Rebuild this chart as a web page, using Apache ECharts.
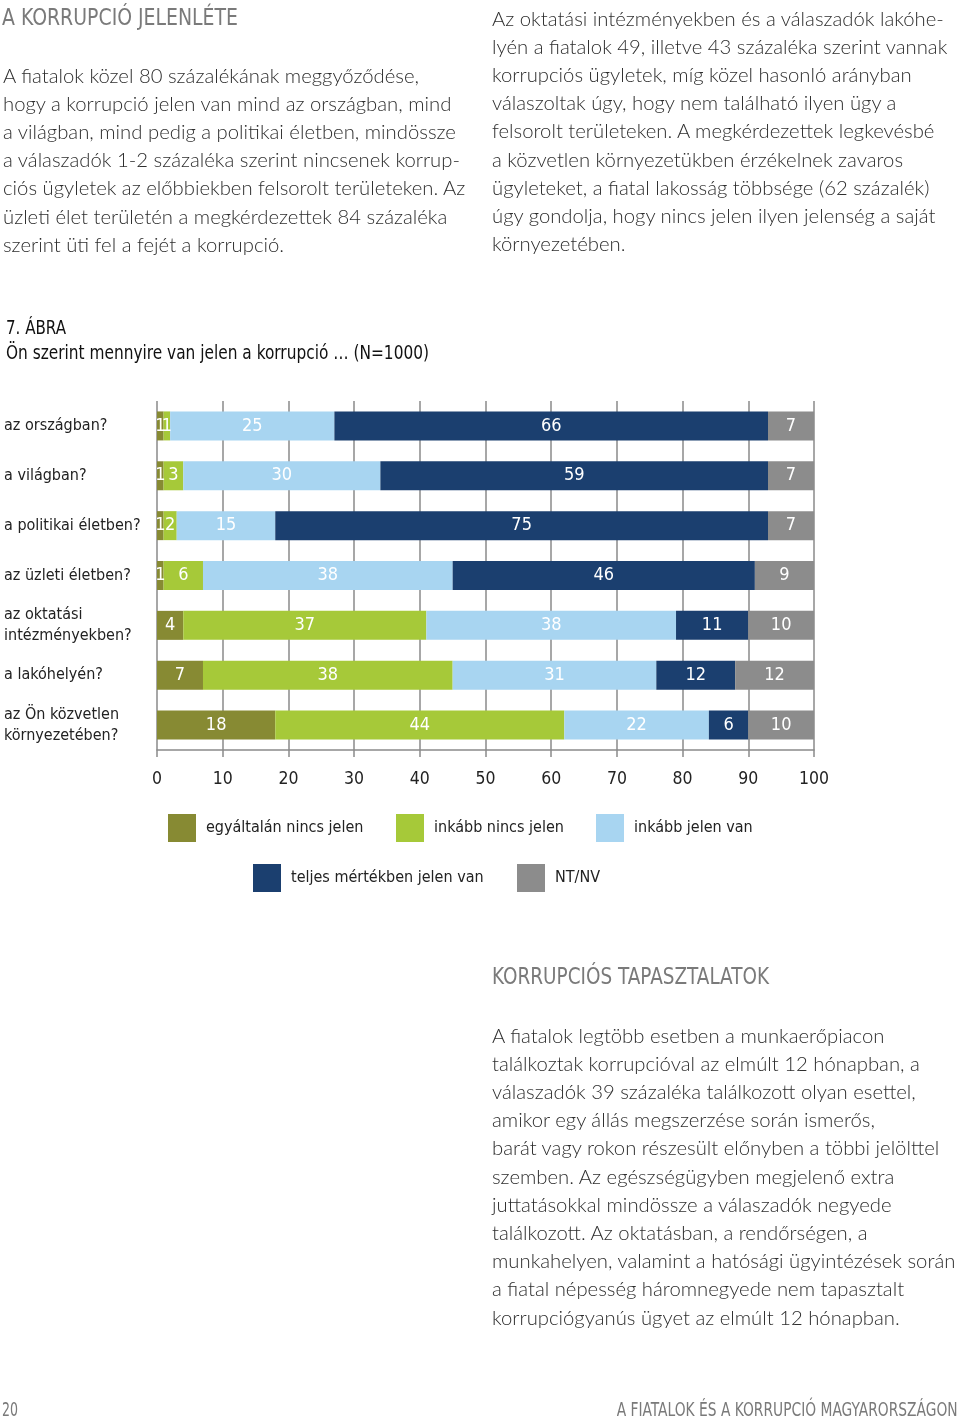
<!DOCTYPE html>
<html>
<head>
<meta charset="utf-8">
<script src="https://cdn.jsdelivr.net/npm/echarts@6/dist/echarts.min.js"></script>
<style>
  html, body { margin:0; padding:0; background:#fff; }
  body { width:960px; height:1417px; position:relative; overflow:hidden; }
  #chart { position:absolute; left:0; top:0; width:960px; height:1417px; }
  .ln { position:absolute; white-space:nowrap; font-family:'Lato','Open Sans',sans-serif; font-weight:300; font-size:20.3px; line-height:28px; height:28px; color:#2e2e2e; }
  .cd { position:absolute; white-space:nowrap; font-family:'DejaVu Sans Condensed','DejaVu Sans',sans-serif; line-height:28px; height:28px; }
</style>
</head>
<body>
<div id="chart"></div>
<div id="txt"></div>
<script>
// ---------- data ----------
const categories = [
  'az országban?',
  'a világban?',
  'a politikai életben?',
  'az üzleti életben?',
  'az oktatási\nintézményekben?',
  'a lakóhelyén?',
  'az Ön közvetlen\nkörnyezetében?'
];
const seriesNames = ['egyáltalán nincs jelen','inkább nincs jelen','inkább jelen van','teljes mértékben jelen van','NT/NV'];
const notAtAll    = [1, 1, 1, 1, 4, 7, 18];
const ratherNot   = [1, 3, 2, 6, 37, 38, 44];
const ratherYes   = [25, 30, 15, 38, 38, 31, 22];
const fully       = [66, 59, 75, 46, 11, 12, 6];
const dkna        = [7, 7, 7, 9, 10, 12, 10];
const xTicks = [0, 100, 10]; // min, max, interval

const leftText = [
  'A fiatalok közel 80 százalékának meggyőződése,',
  'hogy a korrupció jelen van mind az országban, mind',
  'a világban, mind pedig a politikai életben, mindössze',
  'a válaszadók 1-2 százaléka szerint nincsenek korrup-',
  'ciós ügyletek az előbbiekben felsorolt területeken. Az',
  'üzleti élet területén a megkérdezettek 84 százaléka',
  'szerint üti fel a fejét a korrupció.'
];
const rightText = [
  'Az oktatási intézményekben és a válaszadók lakóhe-',
  'lyén a fiatalok 49, illetve 43 százaléka szerint vannak',
  'korrupciós ügyletek, míg közel hasonló arányban',
  'válaszoltak úgy, hogy nem található ilyen ügy a',
  'felsorolt területeken. A megkérdezettek legkevésbé',
  'a közvetlen környezetükben érzékelnek zavaros',
  'ügyleteket, a fiatal lakosság többsége (62 százalék)',
  'úgy gondolja, hogy nincs jelen ilyen jelenség a saját',
  'környezetében.'
];
const lowerText = [
  'A fiatalok legtöbb esetben a munkaerőpiacon',
  'találkoztak korrupcióval az elmúlt 12 hónapban, a',
  'válaszadók 39 százaléka találkozott olyan esettel,',
  'amikor egy állás megszerzése során ismerős,',
  'barát vagy rokon részesült előnyben a többi jelölttel',
  'szemben. Az egészségügyben megjelenő extra',
  'juttatásokkal mindössze a válaszadók negyede',
  'találkozott. Az oktatásban, a rendőrségen, a',
  'munkahelyen, valamint a hatósági ügyintézések során',
  'a fiatal népesség háromnegyede nem tapasztalt',
  'korrupciógyanús ügyet az elmúlt 12 hónapban.'
];

// ---------- page text ----------
const txt = document.getElementById('txt');
function addLine(text, x, yc) {
  const d = document.createElement('div');
  d.className = 'ln';
  d.textContent = text;
  d.style.left = x + 'px';
  d.style.top = (yc - 14.5) + 'px';
  txt.appendChild(d);
}
// condensed text fitted to a target width (x0..x1)
function addCond(text, x0, x1, yc, size, color, rightAlign) {
  const d = document.createElement('div');
  d.className = 'cd';
  d.textContent = text;
  d.style.fontSize = size + 'px';
  d.style.color = color;
  d.style.top = (yc - 14) + 'px';
  if (rightAlign) { d.style.right = (960 - x1) + 'px'; d.style.transformOrigin = 'right center'; }
  else { d.style.left = x0 + 'px'; d.style.transformOrigin = 'left center'; }
  txt.appendChild(d);
  const w = d.getBoundingClientRect().width;
  if (w > 0) d.style.transform = 'scaleX(' + ((x1 - x0) / w).toFixed(4) + ')';
}
addCond('A KORRUPCIÓ JELENLÉTE', 2, 238, 17, 23, '#7a7a7a');
leftText.forEach((t, i) => addLine(t, 3, 75 + i * 28.2));
rightText.forEach((t, i) => addLine(t, 492, 18 + i * 28.2));
addCond('7. ÁBRA', 6, 66, 327, 20, '#111');
addCond('Ön szerint mennyire van jelen a korrupció …  (N=1000)', 6, 429, 352, 20, '#111');
addCond('KORRUPCIÓS TAPASZTALATOK', 492, 769, 976, 23, '#7a7a7a');
lowerText.forEach((t, i) => addLine(t, 492, 1035 + i * 28.2));
addCond('20', 2, 18, 1409, 19, '#7a7a7a');
addCond('A FIATALOK ÉS A KORRUPCIÓ MAGYARORSZÁGON', 617, 958, 1409, 19, '#7a7a7a', true);

// ---------- chart ----------
const COND = "'DejaVu Sans Condensed','DejaVu Sans',sans-serif";
const colors = ['#878a33', '#a6c939', '#a8d5f1', '#1b3f6f', '#8c8c8c'];
const values = [notAtAll, ratherNot, ratherYes, fully, dkna];

const chart = echarts.init(document.getElementById('chart'), null, { renderer: 'canvas' });

const legendPos = [
  { left: 168, top: 814 },
  { left: 396, top: 814 },
  { left: 596, top: 814 },
  { left: 253, top: 864 },
  { left: 517, top: 864 }
];

const option = {
  animation: false,
  color: colors,
  legend: legendPos.map((p, i) => ({
    data: [seriesNames[i]],
    left: p.left, top: p.top,
    padding: 0,
    itemWidth: 28, itemHeight: 28,
    icon: 'rect',
    selectedMode: false,
    textStyle: {
      fontFamily: COND, fontSize: 16, color: '#222',
      padding: i === 4 ? [0, 0, 14, 5] : [4, 0, 0, 5]
    }
  })),
  grid: { left: 157, right: 146, top: 401, bottom: 667, containLabel: false },
  xAxis: {
    type: 'value',
    min: xTicks[0], max: xTicks[1], interval: xTicks[2],
    axisLine: { show: true, lineStyle: { color: '#8a8a8a', width: 1.5 } },
    axisTick: { show: true, length: 7, lineStyle: { color: '#8a8a8a', width: 1.5 } },
    splitLine: { show: true, lineStyle: { color: '#8a8a8a', width: 1.5 } },
    axisLabel: { margin: 20, fontFamily: COND, fontSize: 17.5, color: '#222' }
  },
  yAxis: {
    type: 'category',
    inverse: true,
    data: categories,
    axisLine: { show: false },
    axisTick: { show: false },
    splitLine: { show: false },
    axisLabel: {
      align: 'left', margin: 153,
      padding: [5, 0, 0, 0],
      fontFamily: COND, fontSize: 16, lineHeight: 21, color: '#222'
    }
  },
  series: values.map((v, i) => ({
    name: seriesNames[i],
    type: 'bar',
    stack: 'total',
    barWidth: 29,
    data: v,
    itemStyle: { color: colors[i] },
    label: {
      show: true, position: 'inside', formatter: '{c}',
      fontFamily: COND, fontSize: 18, color: '#fff'
    }
  }))
};
chart.setOption(option);
</script>
</body>
</html>
